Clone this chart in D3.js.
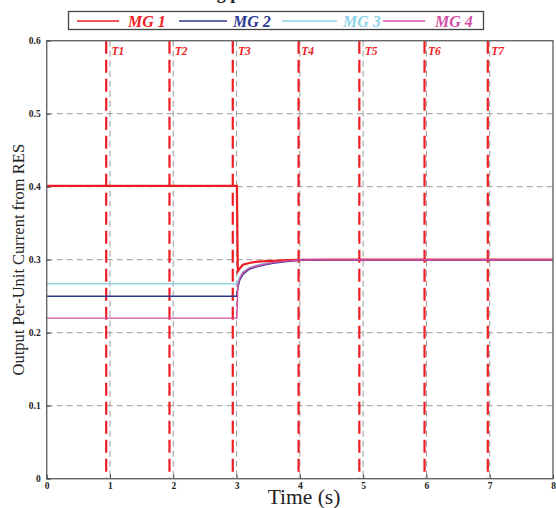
<!DOCTYPE html>
<html>
<head>
<meta charset="utf-8">
<script src="https://cdn.jsdelivr.net/npm/d3@7/dist/d3.min.js"></script>
<style>
  html, body { margin: 0; padding: 0; background: #fff; }
  svg { display: block; }
</style>
</head>
<body>
<svg id="chart" width="556" height="508"></svg>
<script>
// Time samples (s) for the per-unit output currents
const time = [0, 2.99, 3.005, 3.02, 3.05, 3.1, 3.2, 3.3, 3.45, 3.6, 3.8, 4.0, 4.5, 8];
// Per-unit current of each microgrid
const mg1 = [0.401, 0.401, 0.401, 0.284, 0.288, 0.293, 0.2955, 0.297, 0.298, 0.2985, 0.2993, 0.2998, 0.3, 0.3];
const mg2 = [0.250, 0.250, 0.250, 0.262, 0.272, 0.280, 0.287, 0.290, 0.293, 0.2955, 0.2975, 0.2992, 0.3, 0.3];
const mg3 = [0.267, 0.267, 0.267, 0.270, 0.276, 0.283, 0.289, 0.292, 0.295, 0.297, 0.2985, 0.2995, 0.3, 0.3];
const mg4 = [0.220, 0.220, 0.220, 0.265, 0.274, 0.282, 0.288, 0.291, 0.294, 0.2965, 0.298, 0.2995, 0.3, 0.3];
const seriesNames = ["MG 1", "MG 2", "MG 3", "MG 4"];
const seriesColors = ["#ee1d23", "#2b3990", "#8dd3e6", "#d24fa6"];
// Event instants T1..T7
const eventNames = ["T1", "T2", "T3", "T4", "T5", "T6", "T7"];
const eventTimes = [0.94, 1.94, 2.94, 3.98, 4.94, 5.97, 6.97];
const xTicks = [0, 1, 2, 3, 4, 5, 6, 7, 8];
const yTicks = [0, 0.1, 0.2, 0.3, 0.4, 0.5, 0.6];

const svg = d3.select("#chart");
const serif = "'Liberation Serif', 'Times New Roman', serif";
const plotLeft = 46.7, plotRight = 553, plotTop = 40.7, plotBottom = 478.7;

const x = d3.scaleLinear().domain([0, 8]).range([plotLeft, plotRight]);
const y = d3.scaleLinear().domain([0, 0.6]).range([plotBottom, plotTop]);

// Heading sits above the top edge; only its descenders show
svg.append("text")
  .attr("x", 215).attr("y", -1)
  .attr("text-anchor", "middle")
  .attr("font-family", serif).attr("font-weight", "bold")
  .attr("font-size", 18).attr("fill", "#222")
  .text("Current sharing performance");

// Grid
const grid = svg.append("g").attr("stroke", "#9a9a9a").attr("stroke-width", 1)
  .attr("stroke-dasharray", "6,4").attr("fill", "none");
grid.selectAll("line.h").data(yTicks.filter(v => v > 0 && v < 0.6)).join("line")
  .attr("class", "h")
  .attr("x1", plotLeft).attr("x2", plotRight)
  .attr("y1", d => y(d)).attr("y2", d => y(d));
grid.selectAll("line.v").data(xTicks.filter(v => v > 0 && v < 8)).join("line")
  .attr("class", "v")
  .attr("y1", plotTop).attr("y2", plotBottom)
  .attr("x1", d => x(d)).attr("x2", d => x(d));

// Event markers
svg.append("g").selectAll("line").data(eventTimes).join("line")
  .attr("x1", d => x(d)).attr("x2", d => x(d))
  .attr("y1", plotTop).attr("y2", plotBottom)
  .attr("stroke", "#ee1d23").attr("stroke-width", 2.2)
  .attr("stroke-dasharray", "13,6");
svg.append("g").selectAll("text").data(eventNames).join("text")
  .attr("x", (d, i) => x(Math.round(eventTimes[i])) + 1.5)
  .attr("y", 55)
  .attr("font-family", serif).attr("font-weight", "bold").attr("font-style", "italic")
  .attr("font-size", 11.5).attr("fill", "#ee1d23")
  .text(d => d);

// Series
const values = [mg1, mg2, mg3, mg4];
const line = d3.line().x((d, i) => x(time[i])).y(d => y(d));
const drawOrder = [2, 0, 1, 3];
const widths = [2.2, 1.5, 1.5, 1.4];
svg.append("g").selectAll("path").data(drawOrder).join("path")
  .attr("d", k => line(values[k]))
  .attr("fill", "none")
  .attr("stroke", k => seriesColors[k])
  .attr("stroke-width", k => widths[k]);

// Frame
svg.append("rect")
  .attr("x", plotLeft).attr("y", plotTop)
  .attr("width", plotRight - plotLeft).attr("height", plotBottom - plotTop)
  .attr("fill", "none").attr("stroke", "#666").attr("stroke-width", 1.4);

// Axes
const xAxis = svg.append("g").attr("transform", `translate(0,${plotBottom})`)
  .call(d3.axisBottom(x).tickValues(xTicks).tickFormat(d3.format("d")).tickSize(-4).tickPadding(4));
const yAxis = svg.append("g").attr("transform", `translate(${plotLeft},0)`)
  .call(d3.axisLeft(y).tickValues(yTicks).tickFormat(d => d === 0 ? "0" : d3.format(".1f")(d)).tickSize(-4).tickPadding(6));
[xAxis, yAxis].forEach(a => {
  a.select(".domain").remove();
  a.selectAll(".tick line").attr("stroke", "#444");
  a.selectAll(".tick text")
    .attr("font-family", serif).attr("font-weight", "bold")
    .attr("font-size", 9.5).attr("fill", "#222");
});

// Axis titles
svg.append("text")
  .attr("x", 304).attr("y", 504)
  .attr("text-anchor", "middle")
  .attr("font-family", serif).attr("font-size", 21.5).attr("fill", "#222")
  .text("Time (s)");
svg.append("text")
  .attr("transform", `translate(24,${(plotTop + plotBottom) / 2}) rotate(-90)`)
  .attr("text-anchor", "middle")
  .attr("font-family", serif).attr("font-size", 16.5).attr("fill", "#222")
  .text("Output Per-Unit Current from RES");

// Legend
const legend = svg.append("g");
legend.append("rect")
  .attr("x", 68.5).attr("y", 11.5).attr("width", 415).attr("height", 18)
  .attr("fill", "#fff").attr("stroke", "#444").attr("stroke-width", 1.3);
const legLine = [[77, 119], [179, 227], [282, 337], [383, 425]];
const legText = [128, 233, 343, 435];
seriesNames.forEach((name, i) => {
  legend.append("line")
    .attr("x1", legLine[i][0]).attr("x2", legLine[i][1])
    .attr("y1", 21).attr("y2", 21)
    .attr("stroke", seriesColors[i]).attr("stroke-width", 1.6);
  legend.append("text")
    .attr("x", legText[i]).attr("y", 26.5)
    .attr("font-family", serif).attr("font-weight", "bold").attr("font-style", "italic")
    .attr("font-size", 16).attr("fill", seriesColors[i])
    .text(name);
});
</script>
</body>
</html>
